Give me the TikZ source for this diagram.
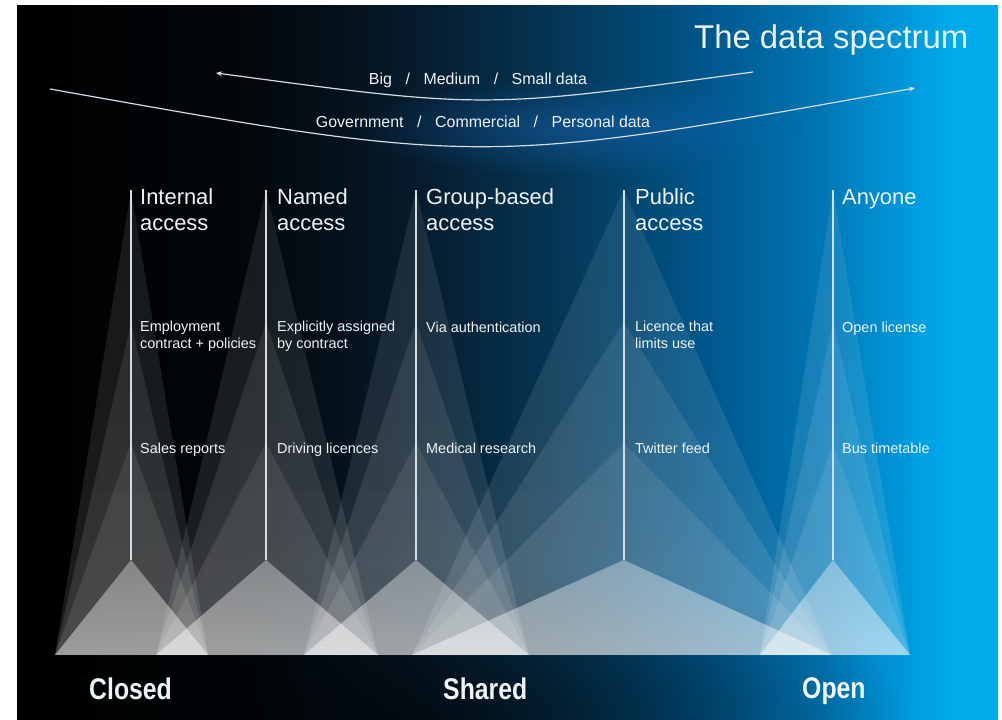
\documentclass[tikz,border=0pt]{standalone}
\usepackage{fontspec}
\setmainfont{Liberation Sans}
\newfontfamily\bandfont{Liberation Sans}[FakeStretch=0.83]
\usetikzlibrary{arrows.meta,fadings}

\definecolor{deep}{HTML}{000000}
\definecolor{night}{HTML}{02070B}
\definecolor{navy}{HTML}{061A2A}
\definecolor{ocean}{HTML}{053654}
\definecolor{sea}{HTML}{00568A}
\definecolor{sky}{HTML}{0076B4}
\definecolor{bright}{HTML}{0092D4}
\definecolor{cyanend}{HTML}{00ABEC}
\definecolor{glowblue}{HTML}{1A6ABF}
\definecolor{arcline}{HTML}{D2DDE4}
\definecolor{inktext}{HTML}{EEF3F5}

\pgfdeclarehorizontalshading{spectrum}{100bp}{color(0bp)=(deep); color(25bp)=(deep); color(37bp)=(night); color(45bp)=(navy); color(52.5bp)=(ocean); color(60bp)=(sea); color(66bp)=(sky); color(69.5bp)=(bright); color(72.5bp)=(cyanend); color(75bp)=(cyanend); color(100bp)=(cyanend)}
\tikzfading[name=beamfade, top color=transparent!25, bottom color=transparent!0]
\tikzfading[name=softglow, inner color=transparent!0, outer color=transparent!100]
\newcommand{\slashgap}{\hspace{.85em}/\hspace{.85em}}

\begin{document}
\begin{tikzpicture}[x=1bp,y=-1bp]
	\tikzset{>={Stealth[length=6bp,width=5bp]}}
	\tikzset{beam/.style={fill=white, path fading=beamfade},
		pole/.style={draw=arcline, line width=1.3bp},
		swoop/.style={draw=arcline, line width=1.2bp},
		head/.style={anchor=base west, inner sep=0pt, align=left, text=inktext, font=\fontsize{22}{26}\selectfont},
		note/.style={anchor=base west, inner sep=0pt, align=left, text=inktext, font=\fontsize{14.5}{16.5}\selectfont},
		band/.style={anchor=base west, inner sep=0pt, text=inktext, font=\bandfont\bfseries\fontsize{30}{30}\selectfont},
		sweep/.style={anchor=base, inner sep=0pt, text=inktext, font=\fontsize{16}{18}\selectfont}}
	\useasboundingbox (0,0) rectangle (1002,720);
	\begin{scope}
		\clip (17,6) rectangle (998,719);
		\shade[shading=spectrum] (17,6) rectangle (998,719);
		\fill[black, fill opacity=0.6, path fading=softglow] (430,719) ellipse [x radius=480, y radius=150];
		\fill[glowblue, fill opacity=0.45, path fading=softglow] (575,128) ellipse [x radius=230, y radius=50];
	\end{scope}
	% beams under each pole
	\foreach \cx/\bl/\br in {131/55/208, 266/156/378, 416/304/529, 624/412/832, 833/760/910}{
		\foreach \ay/\op in {190/0.11, 322/0.11, 443/0.11, 560/0.46}
			\fill[beam, fill opacity=\op] (\cx,\ay) -- (\br,655) -- (\bl,655) -- cycle;
	}
	\foreach \cx [count=\i] in {131,266,416,624,833}{
		\coordinate (top\i) at (\cx,190);
		\coordinate (foot\i) at (\cx,560);
		\draw[pole] (top\i) -- (foot\i);
	}
	% the two sweeping arcs
	\coordinate (sizeL) at (216,73);
	\coordinate (sizeR) at (753,72);
	\coordinate (ownerL) at (50,89);
	\coordinate (ownerR) at (915,88);
	\draw[swoop,<-] (sizeL) .. controls (484,109) .. (sizeR);
	\draw[swoop,->] (ownerL) .. controls (482,166) .. (ownerR);
	\node[sweep] (sizes) at (478,85) {Big\slashgap Medium\slashgap Small data};
	\node[sweep] (owners) at (483,128) {Government\slashgap Commercial\slashgap Personal data};
	\node[anchor=base west, inner sep=0pt, text=inktext, font=\fontsize{33}{36}\selectfont] (title) at (694,49) {The data spectrum};
	% access levels
	\node[head] (internal) at (140,230) {Internal\\access};
	\node[head] (named) at (277,230) {Named\\access};
	\node[head] (group) at (426,230) {Group-based\\access};
	\node[head] (public) at (635,230) {Public\\access};
	\node[head] (anyone) at (842,204) {Anyone};
	\node[note] (employ) at (140,348) {Employment\\contract + policies};
	\node[note] (assigned) at (277,348) {Explicitly assigned\\by contract};
	\node[note] (auth) at (426,332) {Via authentication};
	\node[note] (limits) at (635,348) {Licence that\\limits use};
	\node[note] (openlic) at (842,332) {Open license};
	\node[note] (sales) at (140,453) {Sales reports};
	\node[note] (driving) at (277,453) {Driving licences};
	\node[note] (medical) at (426,453) {Medical research};
	\node[note] (twitter) at (635,453) {Twitter feed};
	\node[note] (bus) at (842,453) {Bus timetable};
	% bottom scale
	\node[band] (closed) at (89,699) {Closed};
	\node[band] (shared) at (443,699) {Shared};
	\node[band] (open) at (802,698) {Open};
\end{tikzpicture}
\end{document}
